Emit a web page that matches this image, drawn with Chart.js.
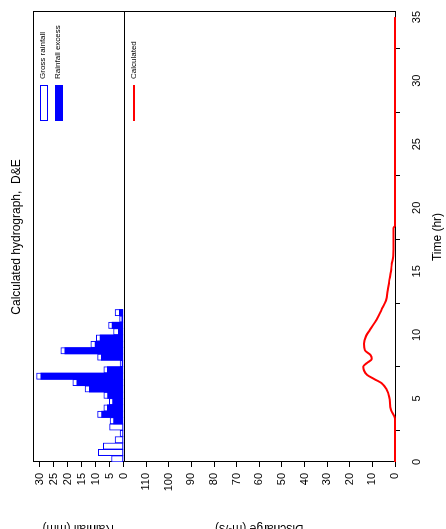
<!DOCTYPE html>
<html>
<head>
<meta charset="utf-8">
<script src="https://cdn.jsdelivr.net/npm/chart.js@4/dist/chart.umd.min.js"></script>
<style>
  html, body { margin: 0; padding: 0; background: #fff; overflow: hidden; width: 446px; height: 529px; }
  /* chart is drawn in landscape then turned a quarter anti-clockwise */
  #wrap { position: absolute; left: 0; top: 549px; width: 549px; height: 446px; transform-origin: 0 0; transform: rotate(-90deg); }
</style>
</head>
<body>
<div id="wrap"><canvas id="hydro" width="549" height="446"></canvas></div>
<script>
// rainfall blocks (centre of each half hour)
const rainTime = [0.25, 0.75, 1.25, 1.75, 2.25, 2.75, 3.25, 3.75, 4.25, 4.75, 5.25, 5.75,
                  6.25, 6.75, 7.25, 7.75, 8.25, 8.75, 9.25, 9.75, 10.25, 10.75, 11.25, 11.75];
const grossRain = [4.3, 9.0, 7.2, 3.0, 1.2, 5.0, 4.8, 9.3, 7.1, 5.1, 7.1, 13.8,
                   18.2, 31.2, 7.1, 1.2, 9.3, 22.5, 11.7, 9.8, 3.6, 5.4, 1.4, 3.0];
const excessRain = [0, 0, 0, 0, 0, 0, 3.6, 7.9, 5.8, 3.9, 5.7, 12.3,
                    16.8, 29.7, 5.8, 0.5, 8.0, 21.1, 10.2, 8.4, 1.9, 4.1, 0.6, 1.5];

// calculated hydrograph
const hydroTime = [0, 3.4, 4.1, 5.1, 5.7, 6.2, 6.5, 6.85, 7.2, 7.5, 7.8, 8.1, 8.4, 8.8, 9.3,
                   9.9, 10.4, 11.2, 12.0, 12.7, 13.5, 14.2, 15.0, 15.6, 16.2, 17.5, 18.4, 18.6, 35];
const hydroQ = [0, 0, 1.8, 2.5, 3.7, 5.9, 8.9, 12.3, 13.7, 14.0, 12.3, 10.3, 10.8, 13.3, 13.7,
                12.8, 11.1, 8.1, 5.9, 4.0, 3.2, 2.6, 1.8, 1.4, 0.8, 0.7, 0.7, 0, 0];

const chartTitle = 'Calculated hydrograph,  D&E';
const FONT = "'Liberation Sans', Arial, sans-serif";

// khung, đường chia hai phần
const framePlugin = {
  id: 'frame',
  beforeDatasetsDraw(chart) {
    const {ctx, chartArea: a, scales} = chart;
    ctx.save();
    ctx.strokeStyle = '#000';
    ctx.lineWidth = 1;
    ctx.strokeRect(Math.round(a.left) + 0.5, Math.round(a.top) + 0.5,
                   Math.round(a.right - a.left), Math.round(a.bottom - a.top));
    const y0 = Math.round(scales.yRain.getPixelForValue(0)) + 0.5;
    ctx.beginPath();
    ctx.moveTo(a.left, y0);
    ctx.lineTo(a.right, y0);
    ctx.stroke();
    ctx.restore();
  }
};

// title and the little legends inside each panel
const labelPlugin = {
  id: 'labels',
  afterDraw(chart) {
    const {ctx, chartArea: a} = chart;
    ctx.save();
    ctx.fillStyle = '#000';
    ctx.font = '12px ' + FONT;
    ctx.textAlign = 'center';
    ctx.textBaseline = 'middle';
    ctx.fillText(chartTitle, (a.left + a.right) / 2, 17);

    const ds = chart.data.datasets;
    const x0 = 428, x1 = 464, tx = 470;
    ctx.font = '8px ' + FONT;
    ctx.textAlign = 'left';
    // gross rainfall
    ctx.fillStyle = '#fff';
    ctx.fillRect(x0, 40, x1 - x0, 8);
    ctx.strokeStyle = ds[1].borderColor;
    ctx.lineWidth = 1;
    ctx.strokeRect(x0 + 0.5, 40.5, x1 - x0 - 1, 7);
    ctx.fillStyle = '#000';
    ctx.fillText(ds[1].label, tx, 43);
    // rainfall excess
    ctx.fillStyle = ds[0].backgroundColor;
    ctx.fillRect(x0, 55, x1 - x0, 8);
    ctx.fillStyle = '#000';
    ctx.fillText(ds[0].label, tx, 58);
    // calculated
    ctx.strokeStyle = ds[2].borderColor;
    ctx.lineWidth = 2;
    ctx.beginPath();
    ctx.moveTo(x0, 134);
    ctx.lineTo(x1, 134);
    ctx.stroke();
    ctx.fillText(ds[2].label, tx, 133.5);
    ctx.restore();
  }
};

const tickFont = {family: FONT, size: 11};
const axisLine = {display: true, color: '#000', width: 1};
const outerTicks = {drawOnChartArea: false, drawTicks: true, tickLength: 5, color: '#000'};

new Chart(document.getElementById('hydro'), {
  type: 'bar',
  data: {
    datasets: [{
      label: 'Rainfall excess',
      data: rainTime.map((t, i) => ({x: t, y: excessRain[i]})),
      yAxisID: 'yRain',
      backgroundColor: '#0000ff',
      borderWidth: 0,
      grouped: false,
      barPercentage: 1,
      categoryPercentage: 1,
      order: 1
    }, {
      label: 'Gross rainfall',
      data: rainTime.map((t, i) => ({x: t, y: grossRain[i]})),
      yAxisID: 'yRain',
      backgroundColor: '#ffffff',
      borderColor: '#0000ff',
      borderWidth: 1,
      borderSkipped: false,
      grouped: false,
      barPercentage: 1,
      categoryPercentage: 1,
      order: 2
    }, {
      type: 'line',
      label: 'Calculated',
      data: hydroTime.map((t, i) => ({x: t, y: hydroQ[i]})),
      yAxisID: 'yQ',
      borderColor: '#ff0000',
      borderWidth: 2,
      pointRadius: 0,
      tension: 0.4,
      cubicInterpolationMode: 'monotone',
      clip: false,
      order: 0
    }]
  },
  options: {
    responsive: false,
    animation: false,
    devicePixelRatio: 1,
    layout: {padding: {top: 33, right: 12, left: 0, bottom: 0}},
    plugins: {legend: {display: false}, tooltip: {enabled: false}},
    scales: {
      x: {
        type: 'linear',
        offset: false,
        min: 0,
        max: 35.4,
        grid: outerTicks,
        border: axisLine,
        ticks: {stepSize: 5, includeBounds: false, color: '#000', font: tickFont, padding: 10, maxRotation: 0},
        title: {display: true, text: 'Time (hr)', color: '#000', font: {family: FONT, size: 12}, padding: {top: 0, bottom: 1}},
        afterFit(scale) { scale.height = 51; }
      },
      yQ: {
        type: 'linear',
        position: 'left',
        stack: 'panels',
        stackWeight: 3,
        min: 0,
        max: 120,
        grid: outerTicks,
        border: axisLine,
        ticks: {
          stepSize: 10, color: '#000', font: tickFont, padding: 6, autoSkip: false,
          callback: v => (v === 120 ? '' : v)
        },
        title: {display: true, text: 'Discharge (m³/s)', color: '#000', font: {family: FONT, size: 12}, padding: {top: 13, bottom: 0}},
        afterFit(scale) { scale.width = 87; }
      },
      yRain: {
        type: 'linear',
        position: 'left',
        stack: 'panels',
        stackWeight: 1,
        min: 0,
        max: 32.5,
        grid: outerTicks,
        border: axisLine,
        ticks: {stepSize: 5, includeBounds: false, color: '#000', font: tickFont, padding: 6, autoSkip: false},
        title: {display: true, text: 'Rainfall (mm)', color: '#000', font: {family: FONT, size: 12}, padding: {top: 13, bottom: 0}},
        afterFit(scale) { scale.width = 87; }
      }
    }
  },
  plugins: [framePlugin, labelPlugin]
});
</script>
</body>
</html>
